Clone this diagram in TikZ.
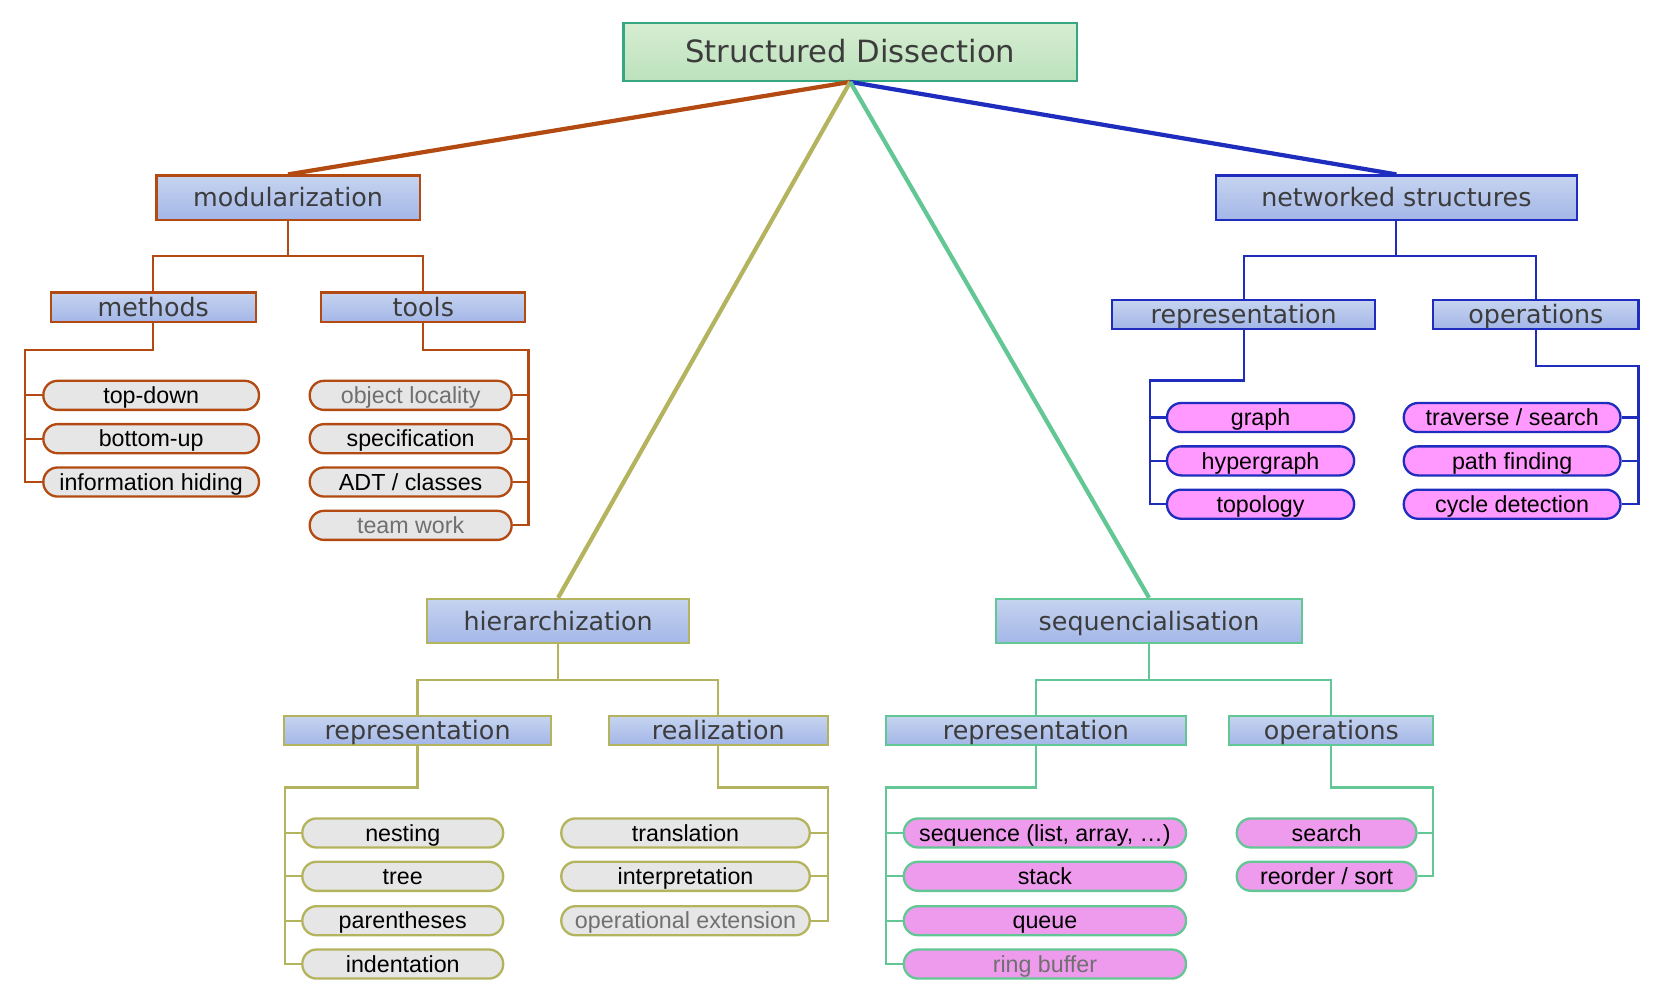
\documentclass[tikz,border=0pt]{standalone}
\usepackage{fontspec}
\newfontfamily\boxfont{DejaVu Sans}
\newfontfamily\leaffont{Liberation Sans}
\definecolor{cbrown}{HTML}{B24A12}
\definecolor{colive}{HTML}{B4B45E}
\definecolor{cgreen}{HTML}{62C794}
\definecolor{cblue}{HTML}{1E2DBE}
\definecolor{rootborder}{HTML}{35A882}
\definecolor{roottop}{HTML}{D6EDD2}
\definecolor{rootbot}{HTML}{BCE2BC}
\definecolor{boxtop}{HTML}{C6D4F0}
\definecolor{boxbot}{HTML}{A3B6E7}
\definecolor{leafgrey}{HTML}{E6E6E6}
\definecolor{pinkA}{HTML}{FF99FF}
\definecolor{pinkB}{HTML}{EE9BEE}
\definecolor{boxtext}{HTML}{3C3C3C}
\definecolor{dimtext}{HTML}{707070}
\tikzset{
  rootbox/.style={draw=rootborder, line width=2pt, top color=roottop, bottom color=rootbot,
    minimum width=429pt, minimum height=55pt, inner sep=0pt, text=boxtext,
    text height=27pt, text depth=6pt,
    font=\boxfont\fontsize{29}{33}\selectfont},
  bigbox/.style={draw=#1, line width=2pt, top color=boxtop, bottom color=boxbot,
    minimum height=42pt, inner sep=0pt, text=boxtext,
    text height=22.5pt, text depth=5pt,
    font=\boxfont\fontsize{24}{28}\selectfont},
  subbox/.style={draw=#1, line width=2pt, top color=boxtop, bottom color=boxbot,
    minimum height=27pt, inner sep=0pt, text=boxtext,
    text height=22.5pt, text depth=5pt,
    font=\boxfont\fontsize{24}{28}\selectfont},
  leaf/.style 2 args={draw=#1, fill=#2, line width=2.2pt, rounded corners=13.5pt,
    minimum height=27.5pt, inner sep=0pt, text=black,
    text height=20.6pt, text depth=5pt,
    font=\leaffont\fontsize{22}{24}\selectfont},
  dim/.style={text=dimtext},
  tree/.style={draw=#1, line width=2pt},
  trunk/.style={draw=#1, line width=4pt},
}
\begin{document}
\begin{tikzpicture}[x=1pt,y=-1pt]
\useasboundingbox (0,0) rectangle (1568.5,951.7);
\fill[white] (0,0) rectangle (1568.5,951.7);

% root
\node[rootbox] (root) at (804.3,49) {Structured Dissection};

% branch boxes
\node[bigbox=cbrown, minimum width=249pt] (mod) at (272.5,187) {modularization};
\node[bigbox=cblue, minimum width=342pt] (net) at (1321,187) {networked structures};
\node[bigbox=colive, minimum width=248pt] (hier) at (528,587.5) {hierarchization};
\node[bigbox=cgreen, minimum width=290pt] (seq) at (1087,587.5) {sequencialisation};

% trunk connectors
\draw[trunk=cbrown] (root.south) -- (mod.north);
\draw[trunk=cblue] (root.south) -- (net.north);
\draw[trunk=colive] (root.south) -- (hier.north);
\draw[trunk=cgreen] (root.south) -- (seq.north);

% ---------- modularization ----------
\node[subbox=cbrown, minimum width=194pt] (meth) at (145,290.5) {methods};
\node[subbox=cbrown, minimum width=193pt] (tools) at (400.5,290.5) {tools};
\coordinate (modj) at (272.5,242);
\draw[tree=cbrown] (mod.south) -- (modj) -| (meth.north);
\draw[tree=cbrown] (modj) -| (tools.north);

\node[leaf={cbrown}{leafgrey}, minimum width=204pt] (m1) at (143,374) {top-down};
\node[leaf={cbrown}{leafgrey}, minimum width=204pt] (m2) at (143,415) {bottom-up};
\node[leaf={cbrown}{leafgrey}, minimum width=204pt] (m3) at (143,456) {information hiding};
\coordinate (methj) at (24,331);
\draw[tree=cbrown] (meth.south) |- (methj) |- (m3.west);
\draw[tree=cbrown] (methj |- m1.west) -- (m1.west);
\draw[tree=cbrown] (methj |- m2.west) -- (m2.west);

\node[leaf={cbrown}{leafgrey}, minimum width=191pt, dim] (t1) at (388.5,374) {object locality};
\node[leaf={cbrown}{leafgrey}, minimum width=191pt] (t2) at (388.5,415) {specification};
\node[leaf={cbrown}{leafgrey}, minimum width=191pt] (t3) at (388.5,456) {ADT / classes};
\node[leaf={cbrown}{leafgrey}, minimum width=191pt, dim] (t4) at (388.5,497) {team work};
\coordinate (toolsj) at (500,331);
\draw[tree=cbrown] (tools.south) |- (toolsj) |- (t4.east);
\draw[tree=cbrown] (toolsj |- t1.east) -- (t1.east);
\draw[tree=cbrown] (toolsj |- t2.east) -- (t2.east);
\draw[tree=cbrown] (toolsj |- t3.east) -- (t3.east);

% ---------- networked structures ----------
\node[subbox=cblue, minimum width=249pt] (nrep) at (1176.5,297.5) {representation};
\node[subbox=cblue, minimum width=194pt] (nops) at (1453,297.5) {operations};
\coordinate (netj) at (1321,242);
\draw[tree=cblue] (net.south) -- (netj) -| (nrep.north);
\draw[tree=cblue] (netj) -| (nops.north);

\node[leaf={cblue}{pinkA}, minimum width=177pt] (g1) at (1192.5,395) {graph};
\node[leaf={cblue}{pinkA}, minimum width=177pt] (g2) at (1192.5,436) {hypergraph};
\node[leaf={cblue}{pinkA}, minimum width=177pt] (g3) at (1192.5,477) {topology};
\coordinate (nrepj) at (1087.5,360);
\draw[tree=cblue] (nrep.south) |- (nrepj) |- (g3.west);
\draw[tree=cblue] (nrepj |- g1.west) -- (g1.west);
\draw[tree=cblue] (nrepj |- g2.west) -- (g2.west);

\node[leaf={cblue}{pinkA}, minimum width=205pt] (o1) at (1430.5,395) {traverse / search};
\node[leaf={cblue}{pinkA}, minimum width=205pt] (o2) at (1430.5,436) {path finding};
\node[leaf={cblue}{pinkA}, minimum width=205pt] (o3) at (1430.5,477) {cycle detection};
\coordinate (nopsj) at (1550,346);
\draw[tree=cblue] (nops.south) |- (nopsj) |- (o3.east);
\draw[tree=cblue] (nopsj |- o1.east) -- (o1.east);
\draw[tree=cblue] (nopsj |- o2.east) -- (o2.east);

% ---------- hierarchization ----------
\node[subbox=colive, minimum width=252pt] (hrep) at (395,691) {representation};
\node[subbox=colive, minimum width=207pt] (hreal) at (679.5,691) {realization};
\coordinate (hierj) at (528,643);
\draw[tree=colive] (hier.south) -- (hierj) -| (hrep.north);
\draw[tree=colive] (hierj) -| (hreal.north);

\node[leaf={colive}{leafgrey}, minimum width=190pt] (h1) at (381,788) {nesting};
\node[leaf={colive}{leafgrey}, minimum width=190pt] (h2) at (381,829) {tree};
\node[leaf={colive}{leafgrey}, minimum width=190pt] (h3) at (381,871) {parentheses};
\node[leaf={colive}{leafgrey}, minimum width=190pt] (h4) at (381,912) {indentation};
\coordinate (hrepj) at (270,745);
\draw[tree=colive] (hrep.south) |- (hrepj) |- (h4.west);
\draw[tree=colive] (hrepj |- h1.west) -- (h1.west);
\draw[tree=colive] (hrepj |- h2.west) -- (h2.west);
\draw[tree=colive] (hrepj |- h3.west) -- (h3.west);

\node[leaf={colive}{leafgrey}, minimum width=235pt] (r1) at (648.5,788) {translation};
\node[leaf={colive}{leafgrey}, minimum width=235pt] (r2) at (648.5,829) {interpretation};
\node[leaf={colive}{leafgrey}, minimum width=235pt, dim] (r3) at (648.5,871) {operational extension};
\coordinate (hrealj) at (783,745);
\draw[tree=colive] (hreal.south) |- (hrealj) |- (r3.east);
\draw[tree=colive] (hrealj |- r1.east) -- (r1.east);
\draw[tree=colive] (hrealj |- r2.east) -- (r2.east);

% ---------- sequencialisation ----------
\node[subbox=cgreen, minimum width=284pt] (srep) at (980,691) {representation};
\node[subbox=cgreen, minimum width=193pt] (sops) at (1259.5,691) {operations};
\coordinate (seqj) at (1087,643);
\draw[tree=cgreen] (seq.south) -- (seqj) -| (srep.north);
\draw[tree=cgreen] (seqj) -| (sops.north);

\node[leaf={cgreen}{pinkB}, minimum width=267pt] (s1) at (988.5,788) {sequence (list, array, …)};
\node[leaf={cgreen}{pinkB}, minimum width=267pt] (s2) at (988.5,829) {stack};
\node[leaf={cgreen}{pinkB}, minimum width=267pt] (s3) at (988.5,871) {queue};
\node[leaf={cgreen}{pinkB}, minimum width=267pt, dim] (s4) at (988.5,912) {ring buffer};
\coordinate (srepj) at (838.5,745);
\draw[tree=cgreen] (srep.south) |- (srepj) |- (s4.west);
\draw[tree=cgreen] (srepj |- s1.west) -- (s1.west);
\draw[tree=cgreen] (srepj |- s2.west) -- (s2.west);
\draw[tree=cgreen] (srepj |- s3.west) -- (s3.west);

\node[leaf={cgreen}{pinkB}, minimum width=170pt] (q1) at (1255,788) {search};
\node[leaf={cgreen}{pinkB}, minimum width=170pt] (q2) at (1255,829) {reorder / sort};
\coordinate (sopsj) at (1356,745);
\draw[tree=cgreen] (sops.south) |- (sopsj) |- (q2.east);
\draw[tree=cgreen] (sopsj |- q1.east) -- (q1.east);
\end{tikzpicture}
\end{document}
